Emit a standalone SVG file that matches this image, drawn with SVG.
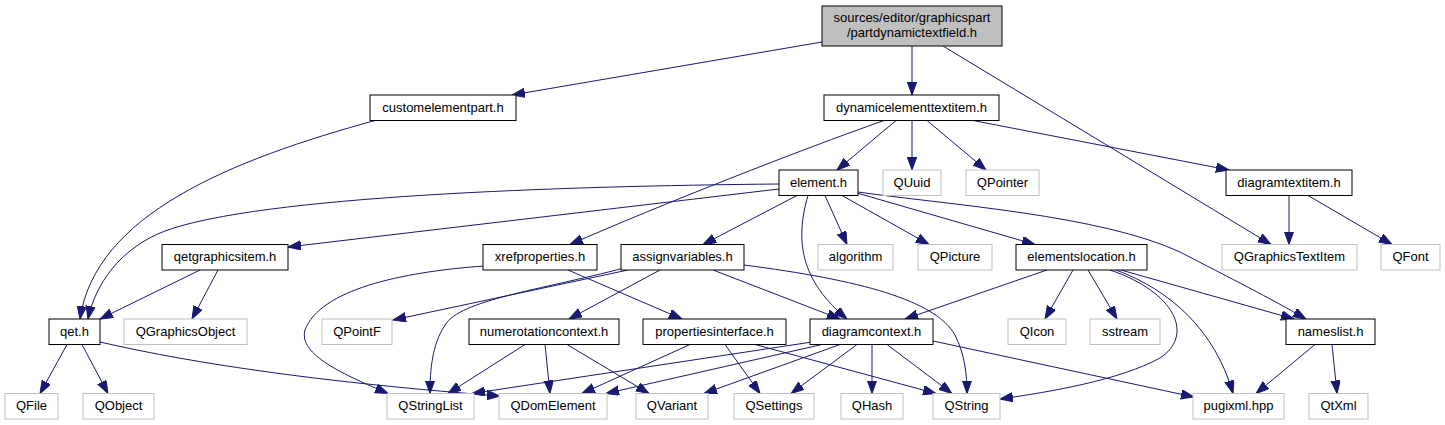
<svg xmlns="http://www.w3.org/2000/svg" width="1445" height="425" viewBox="0 0 1445 425">
<defs>
<style>
.n rect{fill:#fff;stroke:#000;stroke-width:1}
.x rect{fill:#fff;stroke:#bfbfbf;stroke-width:1}
.r rect{fill:#bfbfbf;stroke:#000;stroke-width:1}
text{font-family:"Liberation Sans",Arial,Helvetica,sans-serif;font-size:13px;text-anchor:middle;fill:#000}
#edges path{fill:none;stroke:#191970;stroke-width:1;marker-end:url(#ah)}
</style>
<marker id="ah" markerUnits="userSpaceOnUse" markerWidth="14" markerHeight="10" refX="13" refY="4.7" orient="auto" viewBox="0 0 14 10">
<path d="M0,0 L13,4.7 L0,9.4 z" fill="#191970" stroke="#191970" stroke-width="1"/>
</marker>
</defs>
<rect width="1445" height="425" fill="#fff"/>
<g id="edges">
<path d="M822,42 L512,95"/>
<path d="M912,46 L912,95"/>
<path d="M943,46 L1271,244.5"/>
<path d="M377,120 C230,160 95,215 80,319"/>
<path d="M896,120.5 L837,170"/>
<path d="M912,120.5 L912,170"/>
<path d="M927,120.5 L986,170"/>
<path d="M973,120.5 L1229,170"/>
<path d="M884,120.5 C800,150 660,205 570,244.5"/>
<path d="M779,184 C560,186 260,196 165,231 C120,248 95,285 88,319"/>
<path d="M779,189 L288,247"/>
<path d="M797,195.5 L703,244.5"/>
<path d="M808,195.5 C795,240 800,280 847,319"/>
<path d="M825,195.5 L847,244.5"/>
<path d="M842,195.5 L929,244.5"/>
<path d="M857,193 L1035,244.5"/>
<path d="M858,192 C950,205 1100,215 1180,252 C1230,278 1270,298 1306,319"/>
<path d="M1289,195.5 L1289,244.5"/>
<path d="M1308,195.5 L1392,244.5"/>
<path d="M200,270 L100,319"/>
<path d="M218,270 L192,319"/>
<path d="M484,266 C400,272 320,290 305,330 C298,355 345,375 388,393.5"/>
<path d="M568,270 L682,319"/>
<path d="M628,270 L393,320"/>
<path d="M624,268 C540,290 460,300 445,325 C432,345 430,370 430,393.5"/>
<path d="M660,270 L569,319"/>
<path d="M713,270 L840,319"/>
<path d="M744,265 C860,280 935,300 955,335 C965,355 967,375 967,393.5"/>
<path d="M1047,270 L905,319"/>
<path d="M1073,270 L1045,319"/>
<path d="M1088,270 L1117,319"/>
<path d="M1110,270 C1175,292 1195,335 1160,358 C1120,380 1050,392 1000,399"/>
<path d="M1116,270 C1170,290 1215,330 1233,393.5"/>
<path d="M1121,270 L1294,319"/>
<path d="M67,344.5 L40,393.5"/>
<path d="M82,344.5 L108,393.5"/>
<path d="M100,342 C200,365 330,383 500,396"/>
<path d="M525,344.5 L448,393.5"/>
<path d="M545,344.5 L550,393.5"/>
<path d="M567,344.5 L649,393.5"/>
<path d="M690,344.5 L582,393.5"/>
<path d="M725,344.5 L760,393.5"/>
<path d="M755,344.5 L936,393.5"/>
<path d="M812,342 L472,393.5"/>
<path d="M822,344.5 L606,393.5"/>
<path d="M840,344.5 L704,393.5"/>
<path d="M857,344.5 L791,393.5"/>
<path d="M872,344.5 L872,393.5"/>
<path d="M887,344.5 L952,393.5"/>
<path d="M933,341 L1194,397"/>
<path d="M1315,344.5 L1256,393.5"/>
<path d="M1332,344.5 L1337,393.5"/>
</g>
<g id="root" class="r"><rect x="822" y="6" width="180" height="40"/><text x="912" y="22">sources/editor/graphicspart</text><text x="912" y="37">/partdynamictextfield.h</text></g>
<g id="customelementpart" class="n"><rect x="370" y="95" width="146" height="25.5"/><text x="443" y="111.5">customelementpart.h</text></g>
<g id="dynamicelementtextitem" class="n"><rect x="824" y="95" width="175" height="25.5"/><text x="911.5" y="111.5">dynamicelementtextitem.h</text></g>
<g id="element" class="n"><rect x="779" y="170" width="79" height="25.5"/><text x="818.5" y="186.5">element.h</text></g>
<g id="QUuid" class="x"><rect x="883" y="170" width="58" height="25.5"/><text x="912" y="186.5">QUuid</text></g>
<g id="QPointer" class="x"><rect x="966" y="170" width="73" height="25.5"/><text x="1002.5" y="186.5">QPointer</text></g>
<g id="diagramtextitem" class="n"><rect x="1226" y="170" width="126" height="25.5"/><text x="1289" y="186.5">diagramtextitem.h</text></g>
<g id="qetgraphicsitem" class="n"><rect x="162" y="244.5" width="126" height="25.5"/><text x="225" y="261">qetgraphicsitem.h</text></g>
<g id="xrefproperties" class="n"><rect x="483" y="244.5" width="114" height="25.5"/><text x="540" y="261">xrefproperties.h</text></g>
<g id="assignvariables" class="n"><rect x="621" y="244.5" width="123" height="25.5"/><text x="682.5" y="261">assignvariables.h</text></g>
<g id="algorithm" class="x"><rect x="818" y="244.5" width="75" height="25.5"/><text x="855.5" y="261">algorithm</text></g>
<g id="QPicture" class="x"><rect x="918" y="244.5" width="74" height="25.5"/><text x="955" y="261">QPicture</text></g>
<g id="elementslocation" class="n"><rect x="1016" y="244.5" width="131" height="25.5"/><text x="1081.5" y="261">elementslocation.h</text></g>
<g id="QGraphicsTextItem" class="x"><rect x="1222" y="244.5" width="135" height="25.5"/><text x="1289.5" y="261">QGraphicsTextItem</text></g>
<g id="QFont" class="x"><rect x="1381" y="244.5" width="59" height="25.5"/><text x="1410.5" y="261">QFont</text></g>
<g id="qet" class="n"><rect x="49" y="319" width="51" height="25.5"/><text x="74.5" y="335.5">qet.h</text></g>
<g id="QGraphicsObject" class="x"><rect x="124" y="319" width="123" height="25.5"/><text x="185.5" y="335.5">QGraphicsObject</text></g>
<g id="QPointF" class="x"><rect x="322" y="319" width="70" height="25.5"/><text x="357" y="335.5">QPointF</text></g>
<g id="numerotationcontext" class="n"><rect x="469" y="319" width="150" height="25.5"/><text x="544" y="335.5">numerotationcontext.h</text></g>
<g id="propertiesinterface" class="n"><rect x="643" y="319" width="143" height="25.5"/><text x="714.5" y="335.5">propertiesinterface.h</text></g>
<g id="diagramcontext" class="n"><rect x="810" y="319" width="123" height="25.5"/><text x="871.5" y="335.5">diagramcontext.h</text></g>
<g id="QIcon" class="x"><rect x="1008" y="319" width="58" height="25.5"/><text x="1037" y="335.5">QIcon</text></g>
<g id="sstream" class="x"><rect x="1090" y="319" width="70" height="25.5"/><text x="1125" y="335.5">sstream</text></g>
<g id="nameslist" class="n"><rect x="1286" y="319" width="89" height="25.5"/><text x="1330.5" y="335.5">nameslist.h</text></g>
<g id="QFile" class="x"><rect x="5" y="393.5" width="53" height="25.5"/><text x="31.5" y="410">QFile</text></g>
<g id="QObject" class="x"><rect x="83" y="393.5" width="71" height="25.5"/><text x="118.5" y="410">QObject</text></g>
<g id="QStringList" class="x"><rect x="387" y="393.5" width="87" height="25.5"/><text x="430.5" y="410">QStringList</text></g>
<g id="QDomElement" class="x"><rect x="499" y="393.5" width="108" height="25.5"/><text x="553" y="410">QDomElement</text></g>
<g id="QVariant" class="x"><rect x="636" y="393.5" width="72" height="25.5"/><text x="672" y="410">QVariant</text></g>
<g id="QSettings" class="x"><rect x="734" y="393.5" width="80" height="25.5"/><text x="774" y="410">QSettings</text></g>
<g id="QHash" class="x"><rect x="841" y="393.5" width="62" height="25.5"/><text x="872" y="410">QHash</text></g>
<g id="QString" class="x"><rect x="933" y="393.5" width="67" height="25.5"/><text x="966.5" y="410">QString</text></g>
<g id="pugixml" class="x"><rect x="1193" y="393.5" width="91" height="25.5"/><text x="1238.5" y="410">pugixml.hpp</text></g>
<g id="QtXml" class="x"><rect x="1309" y="393.5" width="59" height="25.5"/><text x="1338.5" y="410">QtXml</text></g>
</svg>
